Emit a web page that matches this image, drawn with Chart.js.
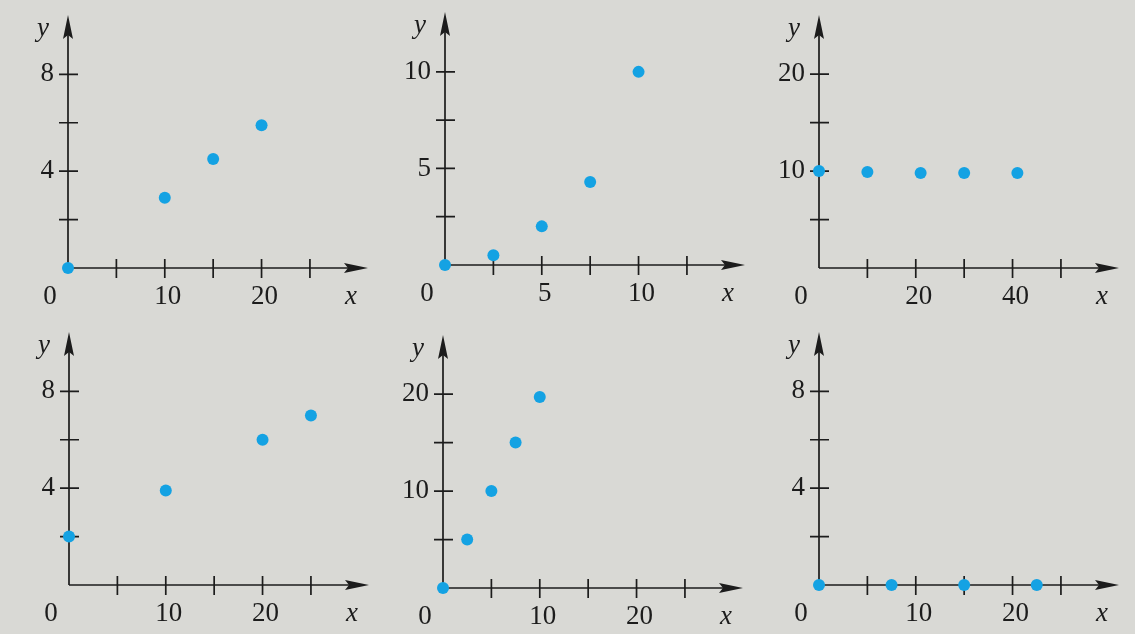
<!DOCTYPE html>
<html lang="en">
<head>
<meta charset="UTF-8">
<title>Six scatter panels</title>
<script src="https://cdn.jsdelivr.net/npm/chart.js"></script>
<style>
  html, body { margin: 0; padding: 0; background: #d9d9d5; }
  #wrap { position: relative; width: 1135px; height: 634px; background: #d9d9d5; overflow: hidden; }
  #wrap canvas { position: absolute; }
</style>
</head>
<body>
<div id="wrap">
  <canvas id="p1" width="378" height="317" style="left:0px;top:0px"></canvas>
  <canvas id="p2" width="378" height="317" style="left:378px;top:0px"></canvas>
  <canvas id="p3" width="379" height="317" style="left:756px;top:0px"></canvas>
  <canvas id="p4" width="378" height="317" style="left:0px;top:317px"></canvas>
  <canvas id="p5" width="378" height="317" style="left:378px;top:317px"></canvas>
  <canvas id="p6" width="379" height="317" style="left:756px;top:317px"></canvas>
</div>
<script>
// panel 1
const x1 = [0, 10, 15, 20];
const y1 = [0, 2.9, 4.5, 5.9];
const xTicks1 = [5, 10, 15, 20, 25];
const xLabels1 = ['', '10', '', '20', ''];
const yTicks1 = [2, 4, 6, 8];
const yLabels1 = ['', '4', '', '8'];

// panel 2
const x2 = [0, 2.5, 5, 7.5, 10];
const y2 = [0, 0.5, 2, 4.3, 10];
const xTicks2 = [2.5, 5, 7.5, 10, 12.5];
const xLabels2 = ['', '5', '', '10', ''];
const yTicks2 = [2.5, 5, 7.5, 10];
const yLabels2 = ['', '5', '', '10'];

// panel 3
const x3 = [0, 10, 21, 30, 41];
const y3 = [10, 9.9, 9.8, 9.8, 9.8];
const xTicks3 = [10, 20, 30, 40, 50];
const xLabels3 = ['', '20', '', '40', ''];
const yTicks3 = [5, 10, 15, 20];
const yLabels3 = ['', '10', '', '20'];

// panel 4
const x4 = [0, 10, 20, 25];
const y4 = [2, 3.9, 6, 7];
const xTicks4 = [5, 10, 15, 20, 25];
const xLabels4 = ['', '10', '', '20', ''];
const yTicks4 = [2, 4, 6, 8];
const yLabels4 = ['', '4', '', '8'];

// panel 5
const x5 = [0, 2.5, 5, 7.5, 10];
const y5 = [0, 5, 10, 15, 19.7];
const xTicks5 = [5, 10, 15, 20, 25];
const xLabels5 = ['', '10', '', '20', ''];
const yTicks5 = [5, 10, 15, 20];
const yLabels5 = ['', '10', '', '20'];

// panel 6
const x6 = [0, 7.5, 15, 22.5];
const y6 = [0, 0, 0, 0];
const xTicks6 = [5, 10, 15, 20, 25];
const xLabels6 = ['', '10', '', '20', ''];
const yTicks6 = [2, 4, 6, 8];
const yLabels6 = ['', '4', '', '8'];

const ink = '#1c1c1c';
const dotColor = '#14a2e3';
const serif = '"Liberation Serif", "DejaVu Serif", serif';

// axis lines, crossing tick marks, arrow heads and the 0 / x / y letters
const arrowAxes = {
    id: 'arrowAxes',
    beforeDatasetsDraw(chart) {
        const ctx = chart.ctx;
        const xs = chart.scales.x, ys = chart.scales.y;
        const ox = xs.getPixelForValue(0), oy = ys.getPixelForValue(0);
        const xEnd = chart.chartArea.right, yEnd = chart.chartArea.top;
        ctx.save();
        ctx.strokeStyle = ink;
        ctx.fillStyle = ink;
        ctx.lineWidth = 1.7;
        ctx.beginPath();
        ctx.moveTo(ox, oy); ctx.lineTo(xEnd - 12, oy);
        ctx.moveTo(ox, oy); ctx.lineTo(ox, yEnd + 12);
        xs.ticks.forEach(t => {
            const p = xs.getPixelForValue(t.value);
            ctx.moveTo(p, oy - 9); ctx.lineTo(p, oy + 10);
        });
        ys.ticks.forEach(t => {
            const p = ys.getPixelForValue(t.value);
            ctx.moveTo(ox - 9, p); ctx.lineTo(ox + 10, p);
        });
        ctx.stroke();

        ctx.beginPath();
        ctx.moveTo(xEnd, oy);
        ctx.lineTo(xEnd - 24, oy - 5);
        ctx.lineTo(xEnd - 20, oy);
        ctx.lineTo(xEnd - 24, oy + 5);
        ctx.closePath();
        ctx.moveTo(ox, yEnd);
        ctx.lineTo(ox - 5, yEnd + 24);
        ctx.lineTo(ox, yEnd + 20);
        ctx.lineTo(ox + 5, yEnd + 24);
        ctx.closePath();
        ctx.fill();

        ctx.textAlign = 'center';
        ctx.textBaseline = 'middle';
        ctx.font = '27px ' + serif;
        ctx.fillText('0', ox - 18, oy + 29);
        ctx.font = 'italic 27px ' + serif;
        ctx.fillText('x', xEnd - 17, oy + 29);
        ctx.fillText('y', ox - 25, yEnd + 14);
        ctx.restore();
    }
};

// box = [y axis width, x axis height, top gap, right gap]
function makePanel(id, xs, ys, xTicks, xLabels, yTicks, yLabels, xMax, yMax, box) {
    new Chart(document.getElementById(id), {
        type: 'scatter',
        data: {
            datasets: [{
                data: xs.map((v, i) => ({ x: v, y: ys[i] })),
                backgroundColor: dotColor,
                borderWidth: 0,
                pointRadius: 6,
                pointHoverRadius: 6,
                clip: false
            }]
        },
        options: {
            responsive: false,
            animation: false,
            events: [],
            layout: { padding: { left: 0, bottom: 0, top: box[2], right: box[3] } },
            plugins: { legend: { display: false }, tooltip: { enabled: false } },
            scales: {
                x: {
                    type: 'linear', min: 0, max: xMax, clip: false,
                    afterBuildTicks: s => { s.ticks = xTicks.map(v => ({ value: v })); },
                    afterFit: s => { s.height = box[1]; s.paddingLeft = 0; s.paddingRight = 0; },
                    grid: { display: false, drawTicks: false },
                    border: { display: false },
                    ticks: {
                        padding: 13, labelOffset: 3, maxRotation: 0, autoSkip: false,
                        color: ink, font: { family: serif, size: 27 },
                        callback: (v, i) => xLabels[i]
                    }
                },
                y: {
                    type: 'linear', min: 0, max: yMax, clip: false,
                    afterBuildTicks: s => { s.ticks = yTicks.map(v => ({ value: v })); },
                    afterFit: s => { s.width = box[0]; s.paddingTop = 0; s.paddingBottom = 0; },
                    grid: { display: false, drawTicks: false },
                    border: { display: false },
                    ticks: {
                        padding: 14, autoSkip: false,
                        color: ink, font: { family: serif, size: 27 },
                        callback: (v, i) => yLabels[i]
                    }
                }
            }
        },
        plugins: [arrowAxes]
    });
}

makePanel('p1', x1, y1, xTicks1, xLabels1, yTicks1, yLabels1, 31, 10.45, [68, 49, 15, 10]);
makePanel('p2', x2, y2, xTicks2, xLabels2, yTicks2, yLabels2, 15.5, 13.1, [67, 52, 12, 11]);
makePanel('p3', x3, y3, xTicks3, xLabels3, yTicks3, yLabels3, 62, 26.1, [63, 49, 15, 16]);
makePanel('p4', x4, y4, xTicks4, xLabels4, yTicks4, yLabels4, 31, 10.45, [69, 49, 15, 9]);
makePanel('p5', x5, y5, xTicks5, xLabels5, yTicks5, yLabels5, 31, 26.1, [65, 46, 18, 13]);
makePanel('p6', x6, y6, xTicks6, xLabels6, yTicks6, yLabels6, 31, 10.45, [63, 49, 15, 16]);
</script>
</body>
</html>
